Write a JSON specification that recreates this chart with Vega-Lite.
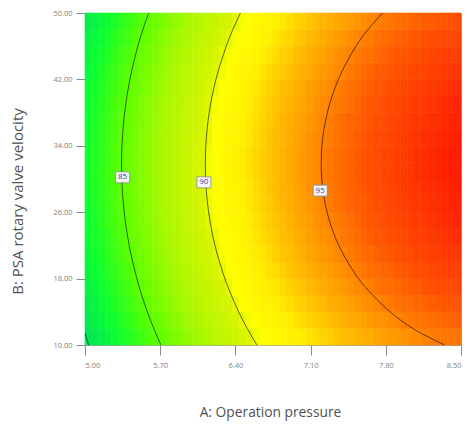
{
  "$schema": "https://vega.github.io/schema/vega-lite/v6.json",
  "width": 376,
  "height": 332,
  "autosize": {"type": "none"},
  "padding": {"left": 85, "top": 13, "right": 7, "bottom": 81},
  "background": "white",
  "config": {
    "view": {"stroke": "#a0a0a0", "strokeWidth": 1},
    "font": "Open Sans"
  },
  "datasets": {
    "surface": [
{"a":5.03,"b":11,"z":80.4},{"a":5.09,"b":11,"z":80.9},{"a":5.16,"b":11,"z":81.4},{"a":5.22,"b":11,"z":81.8},{"a":5.28,"b":11,"z":82.3},{"a":5.34,"b":11,"z":82.8},{"a":5.41,"b":11,"z":83.2},{"a":5.47,"b":11,"z":83.6},{"a":5.53,"b":11,"z":84.1},{"a":5.59,"b":11,"z":84.5},{"a":5.66,"b":11,"z":84.9},{"a":5.72,"b":11,"z":85.3},{"a":5.78,"b":11,"z":85.7},{"a":5.84,"b":11,"z":86.1},{"a":5.91,"b":11,"z":86.5},{"a":5.97,"b":11,"z":86.8},{"a":6.03,"b":11,"z":87.2},{"a":6.09,"b":11,"z":87.6},{"a":6.16,"b":11,"z":87.9},{"a":6.22,"b":11,"z":88.3},{"a":6.28,"b":11,"z":88.6},{"a":6.34,"b":11,"z":88.9},{"a":6.41,"b":11,"z":89.3},{"a":6.47,"b":11,"z":89.6},{"a":6.53,"b":11,"z":89.9},{"a":6.59,"b":11,"z":90.2},{"a":6.66,"b":11,"z":90.5},{"a":6.72,"b":11,"z":90.7},{"a":6.78,"b":11,"z":91.0},{"a":6.84,"b":11,"z":91.2},{"a":6.91,"b":11,"z":91.5},{"a":6.97,"b":11,"z":91.7},{"a":7.03,"b":11,"z":91.9},{"a":7.09,"b":11,"z":92.2},{"a":7.16,"b":11,"z":92.4},{"a":7.22,"b":11,"z":92.6},{"a":7.28,"b":11,"z":92.8},{"a":7.34,"b":11,"z":93.0},{"a":7.41,"b":11,"z":93.2},{"a":7.47,"b":11,"z":93.3},{"a":7.53,"b":11,"z":93.5},{"a":7.59,"b":11,"z":93.7},{"a":7.66,"b":11,"z":93.8},{"a":7.72,"b":11,"z":94.0},{"a":7.78,"b":11,"z":94.2},{"a":7.84,"b":11,"z":94.3},{"a":7.91,"b":11,"z":94.4},{"a":7.97,"b":11,"z":94.6},{"a":8.03,"b":11,"z":94.7},{"a":8.09,"b":11,"z":94.8},{"a":8.16,"b":11,"z":95.0},{"a":8.22,"b":11,"z":95.1},{"a":8.28,"b":11,"z":95.2},{"a":8.34,"b":11,"z":95.3},{"a":8.41,"b":11,"z":95.3},{"a":8.47,"b":11,"z":95.4},
{"a":5.03,"b":13,"z":80.8},{"a":5.09,"b":13,"z":81.3},{"a":5.16,"b":13,"z":81.8},{"a":5.22,"b":13,"z":82.3},{"a":5.28,"b":13,"z":82.7},{"a":5.34,"b":13,"z":83.2},{"a":5.41,"b":13,"z":83.6},{"a":5.47,"b":13,"z":84.1},{"a":5.53,"b":13,"z":84.5},{"a":5.59,"b":13,"z":84.9},{"a":5.66,"b":13,"z":85.3},{"a":5.72,"b":13,"z":85.7},{"a":5.78,"b":13,"z":86.1},{"a":5.84,"b":13,"z":86.5},{"a":5.91,"b":13,"z":86.9},{"a":5.97,"b":13,"z":87.3},{"a":6.03,"b":13,"z":87.6},{"a":6.09,"b":13,"z":88.0},{"a":6.16,"b":13,"z":88.3},{"a":6.22,"b":13,"z":88.7},{"a":6.28,"b":13,"z":89.0},{"a":6.34,"b":13,"z":89.4},{"a":6.41,"b":13,"z":89.7},{"a":6.47,"b":13,"z":90.0},{"a":6.53,"b":13,"z":90.3},{"a":6.59,"b":13,"z":90.6},{"a":6.66,"b":13,"z":90.9},{"a":6.72,"b":13,"z":91.2},{"a":6.78,"b":13,"z":91.4},{"a":6.84,"b":13,"z":91.7},{"a":6.91,"b":13,"z":91.9},{"a":6.97,"b":13,"z":92.2},{"a":7.03,"b":13,"z":92.4},{"a":7.09,"b":13,"z":92.6},{"a":7.16,"b":13,"z":92.8},{"a":7.22,"b":13,"z":93.0},{"a":7.28,"b":13,"z":93.2},{"a":7.34,"b":13,"z":93.4},{"a":7.41,"b":13,"z":93.6},{"a":7.47,"b":13,"z":93.8},{"a":7.53,"b":13,"z":94.0},{"a":7.59,"b":13,"z":94.1},{"a":7.66,"b":13,"z":94.3},{"a":7.72,"b":13,"z":94.5},{"a":7.78,"b":13,"z":94.6},{"a":7.84,"b":13,"z":94.8},{"a":7.91,"b":13,"z":94.9},{"a":7.97,"b":13,"z":95.1},{"a":8.03,"b":13,"z":95.2},{"a":8.09,"b":13,"z":95.3},{"a":8.16,"b":13,"z":95.4},{"a":8.22,"b":13,"z":95.5},{"a":8.28,"b":13,"z":95.6},{"a":8.34,"b":13,"z":95.7},{"a":8.41,"b":13,"z":95.8},{"a":8.47,"b":13,"z":95.9},
{"a":5.03,"b":15,"z":81.2},{"a":5.09,"b":15,"z":81.7},{"a":5.16,"b":15,"z":82.2},{"a":5.22,"b":15,"z":82.6},{"a":5.28,"b":15,"z":83.1},{"a":5.34,"b":15,"z":83.5},{"a":5.41,"b":15,"z":84.0},{"a":5.47,"b":15,"z":84.4},{"a":5.53,"b":15,"z":84.8},{"a":5.59,"b":15,"z":85.3},{"a":5.66,"b":15,"z":85.7},{"a":5.72,"b":15,"z":86.1},{"a":5.78,"b":15,"z":86.5},{"a":5.84,"b":15,"z":86.9},{"a":5.91,"b":15,"z":87.3},{"a":5.97,"b":15,"z":87.6},{"a":6.03,"b":15,"z":88.0},{"a":6.09,"b":15,"z":88.4},{"a":6.16,"b":15,"z":88.7},{"a":6.22,"b":15,"z":89.1},{"a":6.28,"b":15,"z":89.4},{"a":6.34,"b":15,"z":89.7},{"a":6.41,"b":15,"z":90.1},{"a":6.47,"b":15,"z":90.4},{"a":6.53,"b":15,"z":90.7},{"a":6.59,"b":15,"z":91.0},{"a":6.66,"b":15,"z":91.3},{"a":6.72,"b":15,"z":91.5},{"a":6.78,"b":15,"z":91.8},{"a":6.84,"b":15,"z":92.1},{"a":6.91,"b":15,"z":92.3},{"a":6.97,"b":15,"z":92.6},{"a":7.03,"b":15,"z":92.8},{"a":7.09,"b":15,"z":93.0},{"a":7.16,"b":15,"z":93.2},{"a":7.22,"b":15,"z":93.4},{"a":7.28,"b":15,"z":93.7},{"a":7.34,"b":15,"z":93.8},{"a":7.41,"b":15,"z":94.0},{"a":7.47,"b":15,"z":94.2},{"a":7.53,"b":15,"z":94.4},{"a":7.59,"b":15,"z":94.6},{"a":7.66,"b":15,"z":94.7},{"a":7.72,"b":15,"z":94.9},{"a":7.78,"b":15,"z":95.1},{"a":7.84,"b":15,"z":95.2},{"a":7.91,"b":15,"z":95.4},{"a":7.97,"b":15,"z":95.5},{"a":8.03,"b":15,"z":95.6},{"a":8.09,"b":15,"z":95.8},{"a":8.16,"b":15,"z":95.9},{"a":8.22,"b":15,"z":96.0},{"a":8.28,"b":15,"z":96.1},{"a":8.34,"b":15,"z":96.2},{"a":8.41,"b":15,"z":96.3},{"a":8.47,"b":15,"z":96.3},
{"a":5.03,"b":17,"z":81.5},{"a":5.09,"b":17,"z":82.0},{"a":5.16,"b":17,"z":82.5},{"a":5.22,"b":17,"z":83.0},{"a":5.28,"b":17,"z":83.4},{"a":5.34,"b":17,"z":83.9},{"a":5.41,"b":17,"z":84.3},{"a":5.47,"b":17,"z":84.8},{"a":5.53,"b":17,"z":85.2},{"a":5.59,"b":17,"z":85.6},{"a":5.66,"b":17,"z":86.0},{"a":5.72,"b":17,"z":86.4},{"a":5.78,"b":17,"z":86.8},{"a":5.84,"b":17,"z":87.2},{"a":5.91,"b":17,"z":87.6},{"a":5.97,"b":17,"z":88.0},{"a":6.03,"b":17,"z":88.3},{"a":6.09,"b":17,"z":88.7},{"a":6.16,"b":17,"z":89.0},{"a":6.22,"b":17,"z":89.4},{"a":6.28,"b":17,"z":89.7},{"a":6.34,"b":17,"z":90.1},{"a":6.41,"b":17,"z":90.4},{"a":6.47,"b":17,"z":90.7},{"a":6.53,"b":17,"z":91.0},{"a":6.59,"b":17,"z":91.3},{"a":6.66,"b":17,"z":91.6},{"a":6.72,"b":17,"z":91.9},{"a":6.78,"b":17,"z":92.1},{"a":6.84,"b":17,"z":92.4},{"a":6.91,"b":17,"z":92.7},{"a":6.97,"b":17,"z":92.9},{"a":7.03,"b":17,"z":93.1},{"a":7.09,"b":17,"z":93.4},{"a":7.16,"b":17,"z":93.6},{"a":7.22,"b":17,"z":93.8},{"a":7.28,"b":17,"z":94.0},{"a":7.34,"b":17,"z":94.2},{"a":7.41,"b":17,"z":94.4},{"a":7.47,"b":17,"z":94.6},{"a":7.53,"b":17,"z":94.8},{"a":7.59,"b":17,"z":94.9},{"a":7.66,"b":17,"z":95.1},{"a":7.72,"b":17,"z":95.3},{"a":7.78,"b":17,"z":95.5},{"a":7.84,"b":17,"z":95.6},{"a":7.91,"b":17,"z":95.7},{"a":7.97,"b":17,"z":95.9},{"a":8.03,"b":17,"z":96.0},{"a":8.09,"b":17,"z":96.1},{"a":8.16,"b":17,"z":96.3},{"a":8.22,"b":17,"z":96.4},{"a":8.28,"b":17,"z":96.5},{"a":8.34,"b":17,"z":96.6},{"a":8.41,"b":17,"z":96.6},{"a":8.47,"b":17,"z":96.7},
{"a":5.03,"b":19,"z":81.8},{"a":5.09,"b":19,"z":82.3},{"a":5.16,"b":19,"z":82.8},{"a":5.22,"b":19,"z":83.3},{"a":5.28,"b":19,"z":83.7},{"a":5.34,"b":19,"z":84.2},{"a":5.41,"b":19,"z":84.6},{"a":5.47,"b":19,"z":85.0},{"a":5.53,"b":19,"z":85.5},{"a":5.59,"b":19,"z":85.9},{"a":5.66,"b":19,"z":86.3},{"a":5.72,"b":19,"z":86.7},{"a":5.78,"b":19,"z":87.1},{"a":5.84,"b":19,"z":87.5},{"a":5.91,"b":19,"z":87.9},{"a":5.97,"b":19,"z":88.3},{"a":6.03,"b":19,"z":88.6},{"a":6.09,"b":19,"z":89.0},{"a":6.16,"b":19,"z":89.3},{"a":6.22,"b":19,"z":89.7},{"a":6.28,"b":19,"z":90.0},{"a":6.34,"b":19,"z":90.4},{"a":6.41,"b":19,"z":90.7},{"a":6.47,"b":19,"z":91.0},{"a":6.53,"b":19,"z":91.3},{"a":6.59,"b":19,"z":91.6},{"a":6.66,"b":19,"z":91.9},{"a":6.72,"b":19,"z":92.2},{"a":6.78,"b":19,"z":92.4},{"a":6.84,"b":19,"z":92.7},{"a":6.91,"b":19,"z":93.0},{"a":6.97,"b":19,"z":93.2},{"a":7.03,"b":19,"z":93.5},{"a":7.09,"b":19,"z":93.7},{"a":7.16,"b":19,"z":93.9},{"a":7.22,"b":19,"z":94.1},{"a":7.28,"b":19,"z":94.3},{"a":7.34,"b":19,"z":94.5},{"a":7.41,"b":19,"z":94.7},{"a":7.47,"b":19,"z":94.9},{"a":7.53,"b":19,"z":95.1},{"a":7.59,"b":19,"z":95.3},{"a":7.66,"b":19,"z":95.5},{"a":7.72,"b":19,"z":95.6},{"a":7.78,"b":19,"z":95.8},{"a":7.84,"b":19,"z":95.9},{"a":7.91,"b":19,"z":96.1},{"a":7.97,"b":19,"z":96.2},{"a":8.03,"b":19,"z":96.3},{"a":8.09,"b":19,"z":96.5},{"a":8.16,"b":19,"z":96.6},{"a":8.22,"b":19,"z":96.7},{"a":8.28,"b":19,"z":96.8},{"a":8.34,"b":19,"z":96.9},{"a":8.41,"b":19,"z":97.0},{"a":8.47,"b":19,"z":97.0},
{"a":5.03,"b":21,"z":82.1},{"a":5.09,"b":21,"z":82.6},{"a":5.16,"b":21,"z":83.0},{"a":5.22,"b":21,"z":83.5},{"a":5.28,"b":21,"z":84.0},{"a":5.34,"b":21,"z":84.4},{"a":5.41,"b":21,"z":84.9},{"a":5.47,"b":21,"z":85.3},{"a":5.53,"b":21,"z":85.7},{"a":5.59,"b":21,"z":86.1},{"a":5.66,"b":21,"z":86.6},{"a":5.72,"b":21,"z":87.0},{"a":5.78,"b":21,"z":87.4},{"a":5.84,"b":21,"z":87.7},{"a":5.91,"b":21,"z":88.1},{"a":5.97,"b":21,"z":88.5},{"a":6.03,"b":21,"z":88.9},{"a":6.09,"b":21,"z":89.2},{"a":6.16,"b":21,"z":89.6},{"a":6.22,"b":21,"z":89.9},{"a":6.28,"b":21,"z":90.3},{"a":6.34,"b":21,"z":90.6},{"a":6.41,"b":21,"z":90.9},{"a":6.47,"b":21,"z":91.2},{"a":6.53,"b":21,"z":91.6},{"a":6.59,"b":21,"z":91.9},{"a":6.66,"b":21,"z":92.1},{"a":6.72,"b":21,"z":92.4},{"a":6.78,"b":21,"z":92.7},{"a":6.84,"b":21,"z":93.0},{"a":6.91,"b":21,"z":93.2},{"a":6.97,"b":21,"z":93.5},{"a":7.03,"b":21,"z":93.7},{"a":7.09,"b":21,"z":94.0},{"a":7.16,"b":21,"z":94.2},{"a":7.22,"b":21,"z":94.4},{"a":7.28,"b":21,"z":94.6},{"a":7.34,"b":21,"z":94.8},{"a":7.41,"b":21,"z":95.0},{"a":7.47,"b":21,"z":95.2},{"a":7.53,"b":21,"z":95.4},{"a":7.59,"b":21,"z":95.6},{"a":7.66,"b":21,"z":95.7},{"a":7.72,"b":21,"z":95.9},{"a":7.78,"b":21,"z":96.1},{"a":7.84,"b":21,"z":96.2},{"a":7.91,"b":21,"z":96.4},{"a":7.97,"b":21,"z":96.5},{"a":8.03,"b":21,"z":96.6},{"a":8.09,"b":21,"z":96.8},{"a":8.16,"b":21,"z":96.9},{"a":8.22,"b":21,"z":97.0},{"a":8.28,"b":21,"z":97.1},{"a":8.34,"b":21,"z":97.2},{"a":8.41,"b":21,"z":97.3},{"a":8.47,"b":21,"z":97.3},
{"a":5.03,"b":23,"z":82.3},{"a":5.09,"b":23,"z":82.8},{"a":5.16,"b":23,"z":83.2},{"a":5.22,"b":23,"z":83.7},{"a":5.28,"b":23,"z":84.2},{"a":5.34,"b":23,"z":84.6},{"a":5.41,"b":23,"z":85.1},{"a":5.47,"b":23,"z":85.5},{"a":5.53,"b":23,"z":85.9},{"a":5.59,"b":23,"z":86.3},{"a":5.66,"b":23,"z":86.8},{"a":5.72,"b":23,"z":87.2},{"a":5.78,"b":23,"z":87.6},{"a":5.84,"b":23,"z":88.0},{"a":5.91,"b":23,"z":88.3},{"a":5.97,"b":23,"z":88.7},{"a":6.03,"b":23,"z":89.1},{"a":6.09,"b":23,"z":89.4},{"a":6.16,"b":23,"z":89.8},{"a":6.22,"b":23,"z":90.1},{"a":6.28,"b":23,"z":90.5},{"a":6.34,"b":23,"z":90.8},{"a":6.41,"b":23,"z":91.1},{"a":6.47,"b":23,"z":91.5},{"a":6.53,"b":23,"z":91.8},{"a":6.59,"b":23,"z":92.1},{"a":6.66,"b":23,"z":92.4},{"a":6.72,"b":23,"z":92.6},{"a":6.78,"b":23,"z":92.9},{"a":6.84,"b":23,"z":93.2},{"a":6.91,"b":23,"z":93.4},{"a":6.97,"b":23,"z":93.7},{"a":7.03,"b":23,"z":93.9},{"a":7.09,"b":23,"z":94.2},{"a":7.16,"b":23,"z":94.4},{"a":7.22,"b":23,"z":94.6},{"a":7.28,"b":23,"z":94.8},{"a":7.34,"b":23,"z":95.0},{"a":7.41,"b":23,"z":95.3},{"a":7.47,"b":23,"z":95.4},{"a":7.53,"b":23,"z":95.6},{"a":7.59,"b":23,"z":95.8},{"a":7.66,"b":23,"z":96.0},{"a":7.72,"b":23,"z":96.2},{"a":7.78,"b":23,"z":96.3},{"a":7.84,"b":23,"z":96.5},{"a":7.91,"b":23,"z":96.6},{"a":7.97,"b":23,"z":96.7},{"a":8.03,"b":23,"z":96.9},{"a":8.09,"b":23,"z":97.0},{"a":8.16,"b":23,"z":97.1},{"a":8.22,"b":23,"z":97.2},{"a":8.28,"b":23,"z":97.3},{"a":8.34,"b":23,"z":97.4},{"a":8.41,"b":23,"z":97.5},{"a":8.47,"b":23,"z":97.6},
{"a":5.03,"b":25,"z":82.5},{"a":5.09,"b":25,"z":82.9},{"a":5.16,"b":25,"z":83.4},{"a":5.22,"b":25,"z":83.9},{"a":5.28,"b":25,"z":84.3},{"a":5.34,"b":25,"z":84.8},{"a":5.41,"b":25,"z":85.2},{"a":5.47,"b":25,"z":85.7},{"a":5.53,"b":25,"z":86.1},{"a":5.59,"b":25,"z":86.5},{"a":5.66,"b":25,"z":86.9},{"a":5.72,"b":25,"z":87.3},{"a":5.78,"b":25,"z":87.7},{"a":5.84,"b":25,"z":88.1},{"a":5.91,"b":25,"z":88.5},{"a":5.97,"b":25,"z":88.9},{"a":6.03,"b":25,"z":89.2},{"a":6.09,"b":25,"z":89.6},{"a":6.16,"b":25,"z":90.0},{"a":6.22,"b":25,"z":90.3},{"a":6.28,"b":25,"z":90.6},{"a":6.34,"b":25,"z":91.0},{"a":6.41,"b":25,"z":91.3},{"a":6.47,"b":25,"z":91.6},{"a":6.53,"b":25,"z":91.9},{"a":6.59,"b":25,"z":92.2},{"a":6.66,"b":25,"z":92.5},{"a":6.72,"b":25,"z":92.8},{"a":6.78,"b":25,"z":93.1},{"a":6.84,"b":25,"z":93.3},{"a":6.91,"b":25,"z":93.6},{"a":6.97,"b":25,"z":93.9},{"a":7.03,"b":25,"z":94.1},{"a":7.09,"b":25,"z":94.3},{"a":7.16,"b":25,"z":94.6},{"a":7.22,"b":25,"z":94.8},{"a":7.28,"b":25,"z":95.0},{"a":7.34,"b":25,"z":95.2},{"a":7.41,"b":25,"z":95.4},{"a":7.47,"b":25,"z":95.6},{"a":7.53,"b":25,"z":95.8},{"a":7.59,"b":25,"z":96.0},{"a":7.66,"b":25,"z":96.2},{"a":7.72,"b":25,"z":96.3},{"a":7.78,"b":25,"z":96.5},{"a":7.84,"b":25,"z":96.7},{"a":7.91,"b":25,"z":96.8},{"a":7.97,"b":25,"z":96.9},{"a":8.03,"b":25,"z":97.1},{"a":8.09,"b":25,"z":97.2},{"a":8.16,"b":25,"z":97.3},{"a":8.22,"b":25,"z":97.4},{"a":8.28,"b":25,"z":97.5},{"a":8.34,"b":25,"z":97.6},{"a":8.41,"b":25,"z":97.7},{"a":8.47,"b":25,"z":97.8},
{"a":5.03,"b":27,"z":82.6},{"a":5.09,"b":27,"z":83.1},{"a":5.16,"b":27,"z":83.5},{"a":5.22,"b":27,"z":84.0},{"a":5.28,"b":27,"z":84.5},{"a":5.34,"b":27,"z":84.9},{"a":5.41,"b":27,"z":85.3},{"a":5.47,"b":27,"z":85.8},{"a":5.53,"b":27,"z":86.2},{"a":5.59,"b":27,"z":86.6},{"a":5.66,"b":27,"z":87.0},{"a":5.72,"b":27,"z":87.5},{"a":5.78,"b":27,"z":87.9},{"a":5.84,"b":27,"z":88.2},{"a":5.91,"b":27,"z":88.6},{"a":5.97,"b":27,"z":89.0},{"a":6.03,"b":27,"z":89.4},{"a":6.09,"b":27,"z":89.7},{"a":6.16,"b":27,"z":90.1},{"a":6.22,"b":27,"z":90.4},{"a":6.28,"b":27,"z":90.8},{"a":6.34,"b":27,"z":91.1},{"a":6.41,"b":27,"z":91.4},{"a":6.47,"b":27,"z":91.7},{"a":6.53,"b":27,"z":92.0},{"a":6.59,"b":27,"z":92.3},{"a":6.66,"b":27,"z":92.6},{"a":6.72,"b":27,"z":92.9},{"a":6.78,"b":27,"z":93.2},{"a":6.84,"b":27,"z":93.5},{"a":6.91,"b":27,"z":93.7},{"a":6.97,"b":27,"z":94.0},{"a":7.03,"b":27,"z":94.2},{"a":7.09,"b":27,"z":94.5},{"a":7.16,"b":27,"z":94.7},{"a":7.22,"b":27,"z":94.9},{"a":7.28,"b":27,"z":95.2},{"a":7.34,"b":27,"z":95.4},{"a":7.41,"b":27,"z":95.6},{"a":7.47,"b":27,"z":95.8},{"a":7.53,"b":27,"z":96.0},{"a":7.59,"b":27,"z":96.1},{"a":7.66,"b":27,"z":96.3},{"a":7.72,"b":27,"z":96.5},{"a":7.78,"b":27,"z":96.6},{"a":7.84,"b":27,"z":96.8},{"a":7.91,"b":27,"z":96.9},{"a":7.97,"b":27,"z":97.1},{"a":8.03,"b":27,"z":97.2},{"a":8.09,"b":27,"z":97.3},{"a":8.16,"b":27,"z":97.4},{"a":8.22,"b":27,"z":97.5},{"a":8.28,"b":27,"z":97.6},{"a":8.34,"b":27,"z":97.7},{"a":8.41,"b":27,"z":97.8},{"a":8.47,"b":27,"z":97.9},
{"a":5.03,"b":29,"z":82.7},{"a":5.09,"b":29,"z":83.1},{"a":5.16,"b":29,"z":83.6},{"a":5.22,"b":29,"z":84.1},{"a":5.28,"b":29,"z":84.5},{"a":5.34,"b":29,"z":85.0},{"a":5.41,"b":29,"z":85.4},{"a":5.47,"b":29,"z":85.9},{"a":5.53,"b":29,"z":86.3},{"a":5.59,"b":29,"z":86.7},{"a":5.66,"b":29,"z":87.1},{"a":5.72,"b":29,"z":87.5},{"a":5.78,"b":29,"z":87.9},{"a":5.84,"b":29,"z":88.3},{"a":5.91,"b":29,"z":88.7},{"a":5.97,"b":29,"z":89.1},{"a":6.03,"b":29,"z":89.4},{"a":6.09,"b":29,"z":89.8},{"a":6.16,"b":29,"z":90.2},{"a":6.22,"b":29,"z":90.5},{"a":6.28,"b":29,"z":90.8},{"a":6.34,"b":29,"z":91.2},{"a":6.41,"b":29,"z":91.5},{"a":6.47,"b":29,"z":91.8},{"a":6.53,"b":29,"z":92.1},{"a":6.59,"b":29,"z":92.4},{"a":6.66,"b":29,"z":92.7},{"a":6.72,"b":29,"z":93.0},{"a":6.78,"b":29,"z":93.3},{"a":6.84,"b":29,"z":93.6},{"a":6.91,"b":29,"z":93.8},{"a":6.97,"b":29,"z":94.1},{"a":7.03,"b":29,"z":94.3},{"a":7.09,"b":29,"z":94.6},{"a":7.16,"b":29,"z":94.8},{"a":7.22,"b":29,"z":95.0},{"a":7.28,"b":29,"z":95.2},{"a":7.34,"b":29,"z":95.5},{"a":7.41,"b":29,"z":95.7},{"a":7.47,"b":29,"z":95.9},{"a":7.53,"b":29,"z":96.0},{"a":7.59,"b":29,"z":96.2},{"a":7.66,"b":29,"z":96.4},{"a":7.72,"b":29,"z":96.6},{"a":7.78,"b":29,"z":96.7},{"a":7.84,"b":29,"z":96.9},{"a":7.91,"b":29,"z":97.0},{"a":7.97,"b":29,"z":97.2},{"a":8.03,"b":29,"z":97.3},{"a":8.09,"b":29,"z":97.4},{"a":8.16,"b":29,"z":97.5},{"a":8.22,"b":29,"z":97.6},{"a":8.28,"b":29,"z":97.7},{"a":8.34,"b":29,"z":97.8},{"a":8.41,"b":29,"z":97.9},{"a":8.47,"b":29,"z":98.0},
{"a":5.03,"b":31,"z":82.7},{"a":5.09,"b":31,"z":83.2},{"a":5.16,"b":31,"z":83.7},{"a":5.22,"b":31,"z":84.1},{"a":5.28,"b":31,"z":84.6},{"a":5.34,"b":31,"z":85.0},{"a":5.41,"b":31,"z":85.5},{"a":5.47,"b":31,"z":85.9},{"a":5.53,"b":31,"z":86.3},{"a":5.59,"b":31,"z":86.8},{"a":5.66,"b":31,"z":87.2},{"a":5.72,"b":31,"z":87.6},{"a":5.78,"b":31,"z":88.0},{"a":5.84,"b":31,"z":88.4},{"a":5.91,"b":31,"z":88.7},{"a":5.97,"b":31,"z":89.1},{"a":6.03,"b":31,"z":89.5},{"a":6.09,"b":31,"z":89.8},{"a":6.16,"b":31,"z":90.2},{"a":6.22,"b":31,"z":90.5},{"a":6.28,"b":31,"z":90.9},{"a":6.34,"b":31,"z":91.2},{"a":6.41,"b":31,"z":91.5},{"a":6.47,"b":31,"z":91.9},{"a":6.53,"b":31,"z":92.2},{"a":6.59,"b":31,"z":92.5},{"a":6.66,"b":31,"z":92.8},{"a":6.72,"b":31,"z":93.0},{"a":6.78,"b":31,"z":93.3},{"a":6.84,"b":31,"z":93.6},{"a":6.91,"b":31,"z":93.9},{"a":6.97,"b":31,"z":94.1},{"a":7.03,"b":31,"z":94.4},{"a":7.09,"b":31,"z":94.6},{"a":7.16,"b":31,"z":94.8},{"a":7.22,"b":31,"z":95.1},{"a":7.28,"b":31,"z":95.3},{"a":7.34,"b":31,"z":95.5},{"a":7.41,"b":31,"z":95.7},{"a":7.47,"b":31,"z":95.9},{"a":7.53,"b":31,"z":96.1},{"a":7.59,"b":31,"z":96.3},{"a":7.66,"b":31,"z":96.4},{"a":7.72,"b":31,"z":96.6},{"a":7.78,"b":31,"z":96.8},{"a":7.84,"b":31,"z":96.9},{"a":7.91,"b":31,"z":97.1},{"a":7.97,"b":31,"z":97.2},{"a":8.03,"b":31,"z":97.3},{"a":8.09,"b":31,"z":97.5},{"a":8.16,"b":31,"z":97.6},{"a":8.22,"b":31,"z":97.7},{"a":8.28,"b":31,"z":97.8},{"a":8.34,"b":31,"z":97.9},{"a":8.41,"b":31,"z":98.0},{"a":8.47,"b":31,"z":98.0},
{"a":5.03,"b":33,"z":82.7},{"a":5.09,"b":33,"z":83.2},{"a":5.16,"b":33,"z":83.6},{"a":5.22,"b":33,"z":84.1},{"a":5.28,"b":33,"z":84.6},{"a":5.34,"b":33,"z":85.0},{"a":5.41,"b":33,"z":85.5},{"a":5.47,"b":33,"z":85.9},{"a":5.53,"b":33,"z":86.3},{"a":5.59,"b":33,"z":86.7},{"a":5.66,"b":33,"z":87.2},{"a":5.72,"b":33,"z":87.6},{"a":5.78,"b":33,"z":88.0},{"a":5.84,"b":33,"z":88.4},{"a":5.91,"b":33,"z":88.7},{"a":5.97,"b":33,"z":89.1},{"a":6.03,"b":33,"z":89.5},{"a":6.09,"b":33,"z":89.8},{"a":6.16,"b":33,"z":90.2},{"a":6.22,"b":33,"z":90.5},{"a":6.28,"b":33,"z":90.9},{"a":6.34,"b":33,"z":91.2},{"a":6.41,"b":33,"z":91.5},{"a":6.47,"b":33,"z":91.9},{"a":6.53,"b":33,"z":92.2},{"a":6.59,"b":33,"z":92.5},{"a":6.66,"b":33,"z":92.8},{"a":6.72,"b":33,"z":93.0},{"a":6.78,"b":33,"z":93.3},{"a":6.84,"b":33,"z":93.6},{"a":6.91,"b":33,"z":93.9},{"a":6.97,"b":33,"z":94.1},{"a":7.03,"b":33,"z":94.4},{"a":7.09,"b":33,"z":94.6},{"a":7.16,"b":33,"z":94.8},{"a":7.22,"b":33,"z":95.1},{"a":7.28,"b":33,"z":95.3},{"a":7.34,"b":33,"z":95.5},{"a":7.41,"b":33,"z":95.7},{"a":7.47,"b":33,"z":95.9},{"a":7.53,"b":33,"z":96.1},{"a":7.59,"b":33,"z":96.3},{"a":7.66,"b":33,"z":96.4},{"a":7.72,"b":33,"z":96.6},{"a":7.78,"b":33,"z":96.8},{"a":7.84,"b":33,"z":96.9},{"a":7.91,"b":33,"z":97.1},{"a":7.97,"b":33,"z":97.2},{"a":8.03,"b":33,"z":97.3},{"a":8.09,"b":33,"z":97.5},{"a":8.16,"b":33,"z":97.6},{"a":8.22,"b":33,"z":97.7},{"a":8.28,"b":33,"z":97.8},{"a":8.34,"b":33,"z":97.9},{"a":8.41,"b":33,"z":98.0},{"a":8.47,"b":33,"z":98.0},
{"a":5.03,"b":35,"z":82.6},{"a":5.09,"b":35,"z":83.1},{"a":5.16,"b":35,"z":83.6},{"a":5.22,"b":35,"z":84.1},{"a":5.28,"b":35,"z":84.5},{"a":5.34,"b":35,"z":85.0},{"a":5.41,"b":35,"z":85.4},{"a":5.47,"b":35,"z":85.8},{"a":5.53,"b":35,"z":86.3},{"a":5.59,"b":35,"z":86.7},{"a":5.66,"b":35,"z":87.1},{"a":5.72,"b":35,"z":87.5},{"a":5.78,"b":35,"z":87.9},{"a":5.84,"b":35,"z":88.3},{"a":5.91,"b":35,"z":88.7},{"a":5.97,"b":35,"z":89.1},{"a":6.03,"b":35,"z":89.4},{"a":6.09,"b":35,"z":89.8},{"a":6.16,"b":35,"z":90.1},{"a":6.22,"b":35,"z":90.5},{"a":6.28,"b":35,"z":90.8},{"a":6.34,"b":35,"z":91.2},{"a":6.41,"b":35,"z":91.5},{"a":6.47,"b":35,"z":91.8},{"a":6.53,"b":35,"z":92.1},{"a":6.59,"b":35,"z":92.4},{"a":6.66,"b":35,"z":92.7},{"a":6.72,"b":35,"z":93.0},{"a":6.78,"b":35,"z":93.3},{"a":6.84,"b":35,"z":93.5},{"a":6.91,"b":35,"z":93.8},{"a":6.97,"b":35,"z":94.1},{"a":7.03,"b":35,"z":94.3},{"a":7.09,"b":35,"z":94.6},{"a":7.16,"b":35,"z":94.8},{"a":7.22,"b":35,"z":95.0},{"a":7.28,"b":35,"z":95.2},{"a":7.34,"b":35,"z":95.4},{"a":7.41,"b":35,"z":95.7},{"a":7.47,"b":35,"z":95.8},{"a":7.53,"b":35,"z":96.0},{"a":7.59,"b":35,"z":96.2},{"a":7.66,"b":35,"z":96.4},{"a":7.72,"b":35,"z":96.6},{"a":7.78,"b":35,"z":96.7},{"a":7.84,"b":35,"z":96.9},{"a":7.91,"b":35,"z":97.0},{"a":7.97,"b":35,"z":97.2},{"a":8.03,"b":35,"z":97.3},{"a":8.09,"b":35,"z":97.4},{"a":8.16,"b":35,"z":97.5},{"a":8.22,"b":35,"z":97.6},{"a":8.28,"b":35,"z":97.7},{"a":8.34,"b":35,"z":97.8},{"a":8.41,"b":35,"z":97.9},{"a":8.47,"b":35,"z":98.0},
{"a":5.03,"b":37,"z":82.6},{"a":5.09,"b":37,"z":83.0},{"a":5.16,"b":37,"z":83.5},{"a":5.22,"b":37,"z":84.0},{"a":5.28,"b":37,"z":84.4},{"a":5.34,"b":37,"z":84.9},{"a":5.41,"b":37,"z":85.3},{"a":5.47,"b":37,"z":85.8},{"a":5.53,"b":37,"z":86.2},{"a":5.59,"b":37,"z":86.6},{"a":5.66,"b":37,"z":87.0},{"a":5.72,"b":37,"z":87.4},{"a":5.78,"b":37,"z":87.8},{"a":5.84,"b":37,"z":88.2},{"a":5.91,"b":37,"z":88.6},{"a":5.97,"b":37,"z":89.0},{"a":6.03,"b":37,"z":89.3},{"a":6.09,"b":37,"z":89.7},{"a":6.16,"b":37,"z":90.1},{"a":6.22,"b":37,"z":90.4},{"a":6.28,"b":37,"z":90.7},{"a":6.34,"b":37,"z":91.1},{"a":6.41,"b":37,"z":91.4},{"a":6.47,"b":37,"z":91.7},{"a":6.53,"b":37,"z":92.0},{"a":6.59,"b":37,"z":92.3},{"a":6.66,"b":37,"z":92.6},{"a":6.72,"b":37,"z":92.9},{"a":6.78,"b":37,"z":93.2},{"a":6.84,"b":37,"z":93.5},{"a":6.91,"b":37,"z":93.7},{"a":6.97,"b":37,"z":94.0},{"a":7.03,"b":37,"z":94.2},{"a":7.09,"b":37,"z":94.5},{"a":7.16,"b":37,"z":94.7},{"a":7.22,"b":37,"z":94.9},{"a":7.28,"b":37,"z":95.1},{"a":7.34,"b":37,"z":95.4},{"a":7.41,"b":37,"z":95.6},{"a":7.47,"b":37,"z":95.8},{"a":7.53,"b":37,"z":95.9},{"a":7.59,"b":37,"z":96.1},{"a":7.66,"b":37,"z":96.3},{"a":7.72,"b":37,"z":96.5},{"a":7.78,"b":37,"z":96.6},{"a":7.84,"b":37,"z":96.8},{"a":7.91,"b":37,"z":96.9},{"a":7.97,"b":37,"z":97.1},{"a":8.03,"b":37,"z":97.2},{"a":8.09,"b":37,"z":97.3},{"a":8.16,"b":37,"z":97.4},{"a":8.22,"b":37,"z":97.5},{"a":8.28,"b":37,"z":97.6},{"a":8.34,"b":37,"z":97.7},{"a":8.41,"b":37,"z":97.8},{"a":8.47,"b":37,"z":97.9},
{"a":5.03,"b":39,"z":82.4},{"a":5.09,"b":39,"z":82.9},{"a":5.16,"b":39,"z":83.4},{"a":5.22,"b":39,"z":83.8},{"a":5.28,"b":39,"z":84.3},{"a":5.34,"b":39,"z":84.8},{"a":5.41,"b":39,"z":85.2},{"a":5.47,"b":39,"z":85.6},{"a":5.53,"b":39,"z":86.1},{"a":5.59,"b":39,"z":86.5},{"a":5.66,"b":39,"z":86.9},{"a":5.72,"b":39,"z":87.3},{"a":5.78,"b":39,"z":87.7},{"a":5.84,"b":39,"z":88.1},{"a":5.91,"b":39,"z":88.5},{"a":5.97,"b":39,"z":88.8},{"a":6.03,"b":39,"z":89.2},{"a":6.09,"b":39,"z":89.6},{"a":6.16,"b":39,"z":89.9},{"a":6.22,"b":39,"z":90.3},{"a":6.28,"b":39,"z":90.6},{"a":6.34,"b":39,"z":90.9},{"a":6.41,"b":39,"z":91.3},{"a":6.47,"b":39,"z":91.6},{"a":6.53,"b":39,"z":91.9},{"a":6.59,"b":39,"z":92.2},{"a":6.66,"b":39,"z":92.5},{"a":6.72,"b":39,"z":92.8},{"a":6.78,"b":39,"z":93.1},{"a":6.84,"b":39,"z":93.3},{"a":6.91,"b":39,"z":93.6},{"a":6.97,"b":39,"z":93.8},{"a":7.03,"b":39,"z":94.1},{"a":7.09,"b":39,"z":94.3},{"a":7.16,"b":39,"z":94.6},{"a":7.22,"b":39,"z":94.8},{"a":7.28,"b":39,"z":95.0},{"a":7.34,"b":39,"z":95.2},{"a":7.41,"b":39,"z":95.4},{"a":7.47,"b":39,"z":95.6},{"a":7.53,"b":39,"z":95.8},{"a":7.59,"b":39,"z":96.0},{"a":7.66,"b":39,"z":96.2},{"a":7.72,"b":39,"z":96.3},{"a":7.78,"b":39,"z":96.5},{"a":7.84,"b":39,"z":96.7},{"a":7.91,"b":39,"z":96.8},{"a":7.97,"b":39,"z":96.9},{"a":8.03,"b":39,"z":97.1},{"a":8.09,"b":39,"z":97.2},{"a":8.16,"b":39,"z":97.3},{"a":8.22,"b":39,"z":97.4},{"a":8.28,"b":39,"z":97.5},{"a":8.34,"b":39,"z":97.6},{"a":8.41,"b":39,"z":97.7},{"a":8.47,"b":39,"z":97.8},
{"a":5.03,"b":41,"z":82.3},{"a":5.09,"b":41,"z":82.7},{"a":5.16,"b":41,"z":83.2},{"a":5.22,"b":41,"z":83.7},{"a":5.28,"b":41,"z":84.1},{"a":5.34,"b":41,"z":84.6},{"a":5.41,"b":41,"z":85.0},{"a":5.47,"b":41,"z":85.5},{"a":5.53,"b":41,"z":85.9},{"a":5.59,"b":41,"z":86.3},{"a":5.66,"b":41,"z":86.7},{"a":5.72,"b":41,"z":87.1},{"a":5.78,"b":41,"z":87.5},{"a":5.84,"b":41,"z":87.9},{"a":5.91,"b":41,"z":88.3},{"a":5.97,"b":41,"z":88.7},{"a":6.03,"b":41,"z":89.0},{"a":6.09,"b":41,"z":89.4},{"a":6.16,"b":41,"z":89.8},{"a":6.22,"b":41,"z":90.1},{"a":6.28,"b":41,"z":90.4},{"a":6.34,"b":41,"z":90.8},{"a":6.41,"b":41,"z":91.1},{"a":6.47,"b":41,"z":91.4},{"a":6.53,"b":41,"z":91.7},{"a":6.59,"b":41,"z":92.0},{"a":6.66,"b":41,"z":92.3},{"a":6.72,"b":41,"z":92.6},{"a":6.78,"b":41,"z":92.9},{"a":6.84,"b":41,"z":93.2},{"a":6.91,"b":41,"z":93.4},{"a":6.97,"b":41,"z":93.7},{"a":7.03,"b":41,"z":93.9},{"a":7.09,"b":41,"z":94.2},{"a":7.16,"b":41,"z":94.4},{"a":7.22,"b":41,"z":94.6},{"a":7.28,"b":41,"z":94.8},{"a":7.34,"b":41,"z":95.1},{"a":7.41,"b":41,"z":95.3},{"a":7.47,"b":41,"z":95.5},{"a":7.53,"b":41,"z":95.6},{"a":7.59,"b":41,"z":95.8},{"a":7.66,"b":41,"z":96.0},{"a":7.72,"b":41,"z":96.2},{"a":7.78,"b":41,"z":96.3},{"a":7.84,"b":41,"z":96.5},{"a":7.91,"b":41,"z":96.6},{"a":7.97,"b":41,"z":96.8},{"a":8.03,"b":41,"z":96.9},{"a":8.09,"b":41,"z":97.0},{"a":8.16,"b":41,"z":97.1},{"a":8.22,"b":41,"z":97.2},{"a":8.28,"b":41,"z":97.3},{"a":8.34,"b":41,"z":97.4},{"a":8.41,"b":41,"z":97.5},{"a":8.47,"b":41,"z":97.6},
{"a":5.03,"b":43,"z":82.0},{"a":5.09,"b":43,"z":82.5},{"a":5.16,"b":43,"z":83.0},{"a":5.22,"b":43,"z":83.5},{"a":5.28,"b":43,"z":83.9},{"a":5.34,"b":43,"z":84.4},{"a":5.41,"b":43,"z":84.8},{"a":5.47,"b":43,"z":85.2},{"a":5.53,"b":43,"z":85.7},{"a":5.59,"b":43,"z":86.1},{"a":5.66,"b":43,"z":86.5},{"a":5.72,"b":43,"z":86.9},{"a":5.78,"b":43,"z":87.3},{"a":5.84,"b":43,"z":87.7},{"a":5.91,"b":43,"z":88.1},{"a":5.97,"b":43,"z":88.5},{"a":6.03,"b":43,"z":88.8},{"a":6.09,"b":43,"z":89.2},{"a":6.16,"b":43,"z":89.5},{"a":6.22,"b":43,"z":89.9},{"a":6.28,"b":43,"z":90.2},{"a":6.34,"b":43,"z":90.6},{"a":6.41,"b":43,"z":90.9},{"a":6.47,"b":43,"z":91.2},{"a":6.53,"b":43,"z":91.5},{"a":6.59,"b":43,"z":91.8},{"a":6.66,"b":43,"z":92.1},{"a":6.72,"b":43,"z":92.4},{"a":6.78,"b":43,"z":92.7},{"a":6.84,"b":43,"z":92.9},{"a":6.91,"b":43,"z":93.2},{"a":6.97,"b":43,"z":93.5},{"a":7.03,"b":43,"z":93.7},{"a":7.09,"b":43,"z":93.9},{"a":7.16,"b":43,"z":94.2},{"a":7.22,"b":43,"z":94.4},{"a":7.28,"b":43,"z":94.6},{"a":7.34,"b":43,"z":94.8},{"a":7.41,"b":43,"z":95.0},{"a":7.47,"b":43,"z":95.2},{"a":7.53,"b":43,"z":95.4},{"a":7.59,"b":43,"z":95.6},{"a":7.66,"b":43,"z":95.8},{"a":7.72,"b":43,"z":96.0},{"a":7.78,"b":43,"z":96.1},{"a":7.84,"b":43,"z":96.3},{"a":7.91,"b":43,"z":96.4},{"a":7.97,"b":43,"z":96.5},{"a":8.03,"b":43,"z":96.7},{"a":8.09,"b":43,"z":96.8},{"a":8.16,"b":43,"z":96.9},{"a":8.22,"b":43,"z":97.0},{"a":8.28,"b":43,"z":97.1},{"a":8.34,"b":43,"z":97.2},{"a":8.41,"b":43,"z":97.3},{"a":8.47,"b":43,"z":97.4},
{"a":5.03,"b":45,"z":81.8},{"a":5.09,"b":45,"z":82.3},{"a":5.16,"b":45,"z":82.7},{"a":5.22,"b":45,"z":83.2},{"a":5.28,"b":45,"z":83.7},{"a":5.34,"b":45,"z":84.1},{"a":5.41,"b":45,"z":84.5},{"a":5.47,"b":45,"z":85.0},{"a":5.53,"b":45,"z":85.4},{"a":5.59,"b":45,"z":85.8},{"a":5.66,"b":45,"z":86.2},{"a":5.72,"b":45,"z":86.7},{"a":5.78,"b":45,"z":87.0},{"a":5.84,"b":45,"z":87.4},{"a":5.91,"b":45,"z":87.8},{"a":5.97,"b":45,"z":88.2},{"a":6.03,"b":45,"z":88.6},{"a":6.09,"b":45,"z":88.9},{"a":6.16,"b":45,"z":89.3},{"a":6.22,"b":45,"z":89.6},{"a":6.28,"b":45,"z":90.0},{"a":6.34,"b":45,"z":90.3},{"a":6.41,"b":45,"z":90.6},{"a":6.47,"b":45,"z":90.9},{"a":6.53,"b":45,"z":91.2},{"a":6.59,"b":45,"z":91.5},{"a":6.66,"b":45,"z":91.8},{"a":6.72,"b":45,"z":92.1},{"a":6.78,"b":45,"z":92.4},{"a":6.84,"b":45,"z":92.7},{"a":6.91,"b":45,"z":92.9},{"a":6.97,"b":45,"z":93.2},{"a":7.03,"b":45,"z":93.4},{"a":7.09,"b":45,"z":93.7},{"a":7.16,"b":45,"z":93.9},{"a":7.22,"b":45,"z":94.1},{"a":7.28,"b":45,"z":94.4},{"a":7.34,"b":45,"z":94.6},{"a":7.41,"b":45,"z":94.8},{"a":7.47,"b":45,"z":95.0},{"a":7.53,"b":45,"z":95.2},{"a":7.59,"b":45,"z":95.4},{"a":7.66,"b":45,"z":95.5},{"a":7.72,"b":45,"z":95.7},{"a":7.78,"b":45,"z":95.9},{"a":7.84,"b":45,"z":96.0},{"a":7.91,"b":45,"z":96.2},{"a":7.97,"b":45,"z":96.3},{"a":8.03,"b":45,"z":96.4},{"a":8.09,"b":45,"z":96.5},{"a":8.16,"b":45,"z":96.7},{"a":8.22,"b":45,"z":96.8},{"a":8.28,"b":45,"z":96.9},{"a":8.34,"b":45,"z":97.0},{"a":8.41,"b":45,"z":97.0},{"a":8.47,"b":45,"z":97.1},
{"a":5.03,"b":47,"z":81.5},{"a":5.09,"b":47,"z":82.0},{"a":5.16,"b":47,"z":82.4},{"a":5.22,"b":47,"z":82.9},{"a":5.28,"b":47,"z":83.4},{"a":5.34,"b":47,"z":83.8},{"a":5.41,"b":47,"z":84.2},{"a":5.47,"b":47,"z":84.7},{"a":5.53,"b":47,"z":85.1},{"a":5.59,"b":47,"z":85.5},{"a":5.66,"b":47,"z":85.9},{"a":5.72,"b":47,"z":86.4},{"a":5.78,"b":47,"z":86.7},{"a":5.84,"b":47,"z":87.1},{"a":5.91,"b":47,"z":87.5},{"a":5.97,"b":47,"z":87.9},{"a":6.03,"b":47,"z":88.3},{"a":6.09,"b":47,"z":88.6},{"a":6.16,"b":47,"z":89.0},{"a":6.22,"b":47,"z":89.3},{"a":6.28,"b":47,"z":89.7},{"a":6.34,"b":47,"z":90.0},{"a":6.41,"b":47,"z":90.3},{"a":6.47,"b":47,"z":90.6},{"a":6.53,"b":47,"z":90.9},{"a":6.59,"b":47,"z":91.2},{"a":6.66,"b":47,"z":91.5},{"a":6.72,"b":47,"z":91.8},{"a":6.78,"b":47,"z":92.1},{"a":6.84,"b":47,"z":92.4},{"a":6.91,"b":47,"z":92.6},{"a":6.97,"b":47,"z":92.9},{"a":7.03,"b":47,"z":93.1},{"a":7.09,"b":47,"z":93.4},{"a":7.16,"b":47,"z":93.6},{"a":7.22,"b":47,"z":93.8},{"a":7.28,"b":47,"z":94.1},{"a":7.34,"b":47,"z":94.3},{"a":7.41,"b":47,"z":94.5},{"a":7.47,"b":47,"z":94.7},{"a":7.53,"b":47,"z":94.9},{"a":7.59,"b":47,"z":95.1},{"a":7.66,"b":47,"z":95.2},{"a":7.72,"b":47,"z":95.4},{"a":7.78,"b":47,"z":95.6},{"a":7.84,"b":47,"z":95.7},{"a":7.91,"b":47,"z":95.9},{"a":7.97,"b":47,"z":96.0},{"a":8.03,"b":47,"z":96.1},{"a":8.09,"b":47,"z":96.2},{"a":8.16,"b":47,"z":96.4},{"a":8.22,"b":47,"z":96.5},{"a":8.28,"b":47,"z":96.6},{"a":8.34,"b":47,"z":96.7},{"a":8.41,"b":47,"z":96.7},{"a":8.47,"b":47,"z":96.8},
{"a":5.03,"b":49,"z":81.1},{"a":5.09,"b":49,"z":81.6},{"a":5.16,"b":49,"z":82.1},{"a":5.22,"b":49,"z":82.6},{"a":5.28,"b":49,"z":83.0},{"a":5.34,"b":49,"z":83.5},{"a":5.41,"b":49,"z":83.9},{"a":5.47,"b":49,"z":84.3},{"a":5.53,"b":49,"z":84.8},{"a":5.59,"b":49,"z":85.2},{"a":5.66,"b":49,"z":85.6},{"a":5.72,"b":49,"z":86.0},{"a":5.78,"b":49,"z":86.4},{"a":5.84,"b":49,"z":86.8},{"a":5.91,"b":49,"z":87.2},{"a":5.97,"b":49,"z":87.6},{"a":6.03,"b":49,"z":87.9},{"a":6.09,"b":49,"z":88.3},{"a":6.16,"b":49,"z":88.6},{"a":6.22,"b":49,"z":89.0},{"a":6.28,"b":49,"z":89.3},{"a":6.34,"b":49,"z":89.7},{"a":6.41,"b":49,"z":90.0},{"a":6.47,"b":49,"z":90.3},{"a":6.53,"b":49,"z":90.6},{"a":6.59,"b":49,"z":90.9},{"a":6.66,"b":49,"z":91.2},{"a":6.72,"b":49,"z":91.5},{"a":6.78,"b":49,"z":91.8},{"a":6.84,"b":49,"z":92.0},{"a":6.91,"b":49,"z":92.3},{"a":6.97,"b":49,"z":92.6},{"a":7.03,"b":49,"z":92.8},{"a":7.09,"b":49,"z":93.0},{"a":7.16,"b":49,"z":93.3},{"a":7.22,"b":49,"z":93.5},{"a":7.28,"b":49,"z":93.7},{"a":7.34,"b":49,"z":93.9},{"a":7.41,"b":49,"z":94.1},{"a":7.47,"b":49,"z":94.3},{"a":7.53,"b":49,"z":94.5},{"a":7.59,"b":49,"z":94.7},{"a":7.66,"b":49,"z":94.9},{"a":7.72,"b":49,"z":95.1},{"a":7.78,"b":49,"z":95.2},{"a":7.84,"b":49,"z":95.4},{"a":7.91,"b":49,"z":95.5},{"a":7.97,"b":49,"z":95.6},{"a":8.03,"b":49,"z":95.8},{"a":8.09,"b":49,"z":95.9},{"a":8.16,"b":49,"z":96.0},{"a":8.22,"b":49,"z":96.1},{"a":8.28,"b":49,"z":96.2},{"a":8.34,"b":49,"z":96.3},{"a":8.41,"b":49,"z":96.4},{"a":8.47,"b":49,"z":96.5}
    ],
    "contours": [
{"level":80,"a":5.035,"b":10},{"level":80,"a":5.015,"b":10.8},{"level":80,"a":4.99,"b":11.8},
{"level":85,"a":5.707,"b":10},{"level":85,"a":5.64,"b":12},{"level":85,"a":5.58,"b":14},{"level":85,"a":5.528,"b":16},{"level":85,"a":5.483,"b":18},{"level":85,"a":5.411,"b":22},{"level":85,"a":5.365,"b":26},{"level":85,"a":5.342,"b":30},{"level":85,"a":5.344,"b":34},{"level":85,"a":5.369,"b":38},{"level":85,"a":5.418,"b":42},{"level":85,"a":5.492,"b":46},{"level":85,"a":5.539,"b":48},{"level":85,"a":5.593,"b":50},
{"level":90,"a":6.6,"b":10},{"level":90,"a":6.51,"b":12},{"level":90,"a":6.43,"b":14},{"level":90,"a":6.362,"b":16},{"level":90,"a":6.302,"b":18},{"level":90,"a":6.21,"b":22},{"level":90,"a":6.151,"b":26},{"level":90,"a":6.123,"b":30},{"level":90,"a":6.125,"b":34},{"level":90,"a":6.156,"b":38},{"level":90,"a":6.219,"b":42},{"level":90,"a":6.315,"b":46},{"level":90,"a":6.376,"b":48},{"level":90,"a":6.447,"b":50},
{"level":95,"a":8.347,"b":10},{"level":95,"a":8.05,"b":12},{"level":95,"a":7.84,"b":14},{"level":95,"a":7.679,"b":16},{"level":95,"a":7.546,"b":18},{"level":95,"a":7.362,"b":22},{"level":95,"a":7.253,"b":26},{"level":95,"a":7.204,"b":30},{"level":95,"a":7.206,"b":34},{"level":95,"a":7.256,"b":38},{"level":95,"a":7.358,"b":42},{"level":95,"a":7.522,"b":46},{"level":95,"a":7.634,"b":48},{"level":95,"a":7.771,"b":50}
    ],
    "labels": [
      {"level":"85","a":5.35,"b":30.2},
      {"level":"90","a":6.106,"b":29.6},
      {"level":"95","a":7.189,"b":28.6}
    ]
  },
  "layer": [
    {
      "data": {"name": "surface"},
      "mark": {"type": "rect", "strokeWidth": 0.6},
      "encoding": {
        "x": {"field": "a", "type": "ordinal", "axis": null, "scale": {"paddingInner": 0, "paddingOuter": 0}},
        "y": {"field": "b", "type": "ordinal", "axis": null, "sort": "descending", "scale": {"paddingInner": 0, "paddingOuter": 0}},
        "color": {
          "field": "z", "type": "quantitative", "legend": null,
          "scale": {
            "domain": [80, 82.5, 85, 87.5, 89.8, 90.4, 91.8, 93.3, 94.5, 95.2, 96.3, 97.3, 98.2],
            "range": ["#00e060", "#0cff30", "#5cff00", "#a8f800", "#d8f400", "#ffff00", "#fff000", "#ffbc00", "#ff9600", "#ff7a00", "#ff5400", "#ff3800", "#ff1600"],
            "interpolate": "rgb"
          }
        },
        "stroke": {
          "field": "z", "type": "quantitative", "legend": null,
          "scale": {
            "domain": [80, 82.5, 85, 87.5, 89.8, 90.4, 91.8, 93.3, 94.5, 95.2, 96.3, 97.3, 98.2],
            "range": ["#00e060", "#0cff30", "#5cff00", "#a8f800", "#d8f400", "#ffff00", "#fff000", "#ffbc00", "#ff9600", "#ff7a00", "#ff5400", "#ff3800", "#ff1600"],
            "interpolate": "rgb"
          }
        }
      }
    },
    {
      "layer": [
        {
          "data": {"name": "contours"},
          "mark": {"type": "line", "interpolate": "catmull-rom", "color": "#000000", "opacity": 0.6, "strokeWidth": 1, "clip": true},
          "encoding": {
            "x": {
              "field": "a", "type": "quantitative",
              "scale": {"domain": [5, 8.5], "nice": false, "zero": false},
              "axis": {
                "title": "A: Operation pressure",
                "values": [5, 5.7, 6.4, 7.1, 7.8, 8.5],
                "format": ".2f",
                "grid": false, "domain": false,
                "tickSize": 10, "tickColor": "#8c8c8c",
                "labelFontSize": 7.5, "labelColor": "#808080", "labelPadding": 6,
                "labelFont": "Open Sans",
                "titleFont": "Open Sans", "titleFontSize": 13.8, "titleFontWeight": "normal", "titleColor": "#505050",
                "titleX": 185, "titleY": 67, "titleBaseline": "middle", "titleAlign": "center"
              }
            },
            "y": {
              "field": "b", "type": "quantitative",
              "scale": {"domain": [10, 50], "nice": false, "zero": false},
              "axis": {
                "title": "B: PSA rotary valve velocity",
                "values": [10, 18, 26, 34, 42, 50],
                "format": ".2f",
                "grid": false, "domain": false,
                "tickSize": 9, "tickColor": "#8c8c8c",
                "labelFontSize": 7.5, "labelColor": "#808080", "labelPadding": 4,
                "labelFont": "Open Sans",
                "titleFont": "Open Sans", "titleFontSize": 15, "titleFontWeight": "normal", "titleColor": "#505050",
                "titleX": -68, "titleY": 188, "titleBaseline": "middle", "titleAlign": "center", "titleAngle": -90
              }
            },
            "detail": {"field": "level"},
            "order": {"field": "b"}
          }
        },
        {
          "data": {"name": "labels"},
          "mark": {"type": "point", "shape": "M-1,-0.786L1,-0.786L1,0.786L-1,0.786Z", "size": 196, "filled": true, "fill": "#f4f4fa", "stroke": "#8a8a8a", "strokeWidth": 0.8, "opacity": 1},
          "encoding": {
            "x": {"field": "a", "type": "quantitative"},
            "y": {"field": "b", "type": "quantitative"}
          }
        },
        {
          "data": {"name": "labels"},
          "mark": {"type": "text", "fontSize": 8, "font": "Open Sans", "color": "#4a4290", "align": "center", "baseline": "middle"},
          "encoding": {
            "x": {"field": "a", "type": "quantitative"},
            "y": {"field": "b", "type": "quantitative"},
            "text": {"field": "level"}
          }
        }
      ]
    }
  ],
  "resolve": {"scale": {"x": "independent", "y": "independent", "color": "independent", "stroke": "independent"}}
}
